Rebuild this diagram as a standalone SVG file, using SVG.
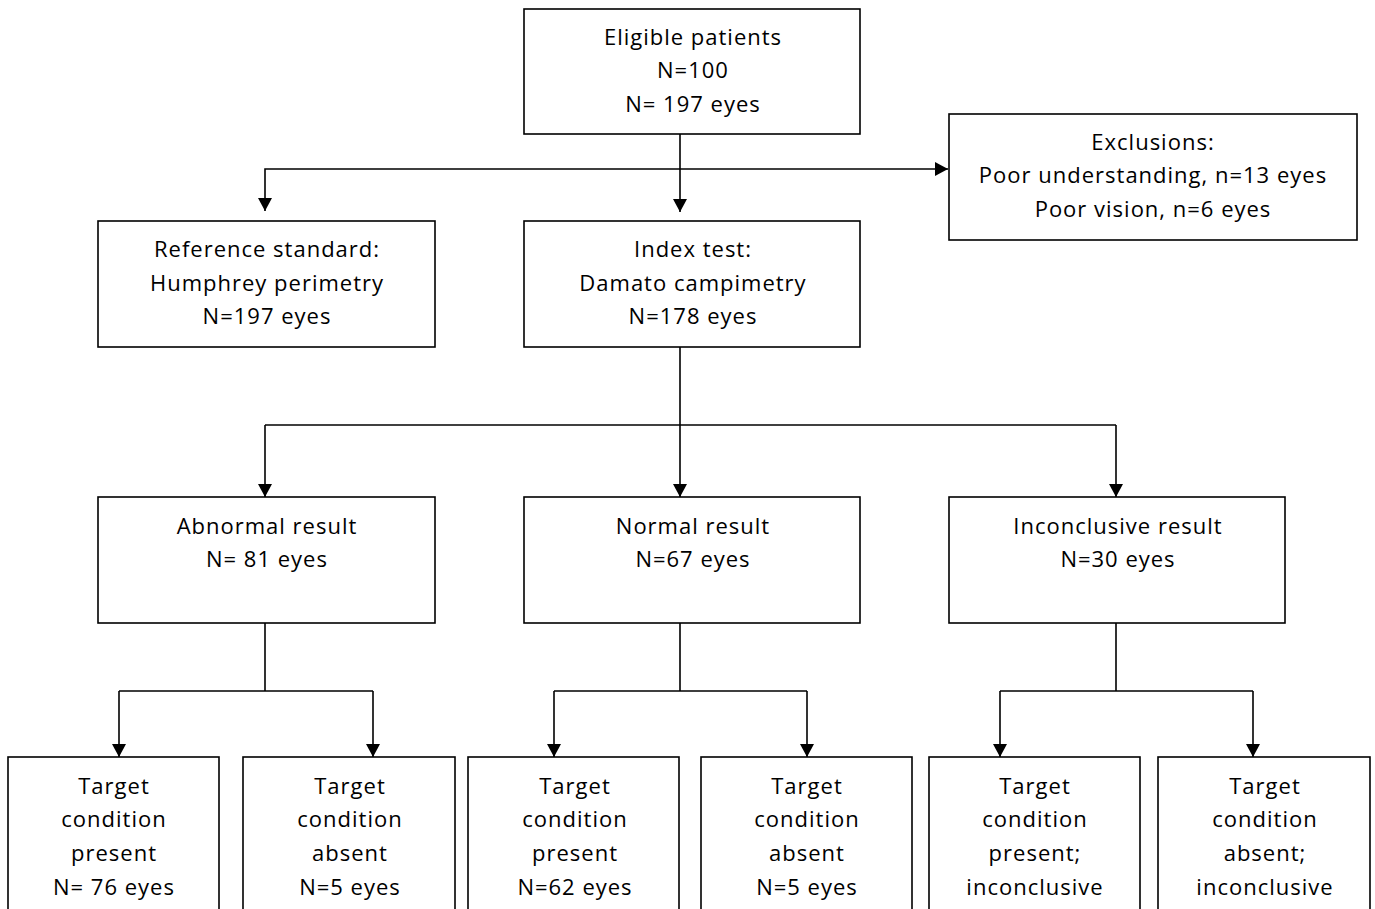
<svg xmlns="http://www.w3.org/2000/svg" width="1375" height="909" viewBox="0 0 1375 909">
<style>
.box{fill:#fff;stroke:#000;stroke-width:1.6}
.ln{fill:none;stroke:#000;stroke-width:1.6}
text{font-family:"Open Sans","Liberation Sans",sans-serif;font-size:22px;letter-spacing:1px;fill:#000;text-anchor:middle}
</style>
<defs>
<marker id="ah" markerWidth="14" markerHeight="14" refX="13" refY="7" orient="auto" markerUnits="userSpaceOnUse">
<path d="M0,0 L13,7 L0,14 Z" fill="#000"/>
</marker>
</defs>
<rect width="1375" height="909" fill="#fff"/>
<g id="connectors">
<path class="ln" d="M680,134 V212" marker-end="url(#ah)"/>
<path class="ln" d="M680,169 H948" marker-end="url(#ah)"/>
<path class="ln" d="M680,169 H265 V211" marker-end="url(#ah)"/>
<path class="ln" d="M680,347 V425"/>
<path class="ln" d="M265,425 H1116"/>
<path class="ln" d="M265,425 V497" marker-end="url(#ah)"/>
<path class="ln" d="M680,425 V497" marker-end="url(#ah)"/>
<path class="ln" d="M1116,425 V497" marker-end="url(#ah)"/>
<path class="ln" d="M265,623 V691 M119,691 H373"/>
<path class="ln" d="M119,691 V757" marker-end="url(#ah)"/>
<path class="ln" d="M373,691 V757" marker-end="url(#ah)"/>
<path class="ln" d="M680,623 V691 M554,691 H807"/>
<path class="ln" d="M554,691 V757" marker-end="url(#ah)"/>
<path class="ln" d="M807,691 V757" marker-end="url(#ah)"/>
<path class="ln" d="M1116,623 V691 M1000,691 H1253"/>
<path class="ln" d="M1000,691 V757" marker-end="url(#ah)"/>
<path class="ln" d="M1253,691 V757" marker-end="url(#ah)"/>
</g>
<g id="eligible">
<rect class="box" x="524" y="9" width="336" height="125"/>
<text x="693" y="45">Eligible patients</text>
<text x="693" y="78">N=100</text>
<text x="693" y="112">N= 197 eyes</text>
</g>
<g id="exclusions">
<rect class="box" x="949" y="114" width="408" height="126"/>
<text x="1153" y="150">Exclusions:</text>
<text x="1153" y="183">Poor understanding, n=13 eyes</text>
<text x="1153" y="217">Poor vision, n=6 eyes</text>
</g>
<g id="reference">
<rect class="box" x="98" y="221" width="337" height="126"/>
<text x="267" y="257">Reference standard:</text>
<text x="267" y="291">Humphrey perimetry</text>
<text x="267" y="324">N=197 eyes</text>
</g>
<g id="index">
<rect class="box" x="524" y="221" width="336" height="126"/>
<text x="693" y="257">Index test:</text>
<text x="693" y="291">Damato campimetry</text>
<text x="693" y="324">N=178 eyes</text>
</g>
<g id="abnormal">
<rect class="box" x="98" y="497" width="337" height="126"/>
<text x="267" y="534">Abnormal result</text>
<text x="267" y="567">N= 81 eyes</text>
</g>
<g id="normal">
<rect class="box" x="524" y="497" width="336" height="126"/>
<text x="693" y="534">Normal result</text>
<text x="693" y="567">N=67 eyes</text>
</g>
<g id="inconclusive">
<rect class="box" x="949" y="497" width="336" height="126"/>
<text x="1118" y="534">Inconclusive result</text>
<text x="1118" y="567">N=30 eyes</text>
</g>
<g id="abn-present">
<rect class="box" x="8" y="757" width="211" height="170"/>
<text x="114" y="794">Target</text>
<text x="114" y="827">condition</text>
<text x="114" y="861">present</text>
<text x="114" y="895">N= 76 eyes</text>
</g>
<g id="abn-absent">
<rect class="box" x="243" y="757" width="212" height="170"/>
<text x="350" y="794">Target</text>
<text x="350" y="827">condition</text>
<text x="350" y="861">absent</text>
<text x="350" y="895">N=5 eyes</text>
</g>
<g id="norm-present">
<rect class="box" x="468" y="757" width="211" height="170"/>
<text x="575" y="794">Target</text>
<text x="575" y="827">condition</text>
<text x="575" y="861">present</text>
<text x="575" y="895">N=62 eyes</text>
</g>
<g id="norm-absent">
<rect class="box" x="701" y="757" width="211" height="170"/>
<text x="807" y="794">Target</text>
<text x="807" y="827">condition</text>
<text x="807" y="861">absent</text>
<text x="807" y="895">N=5 eyes</text>
</g>
<g id="inc-present">
<rect class="box" x="929" y="757" width="211" height="170"/>
<text x="1035" y="794">Target</text>
<text x="1035" y="827">condition</text>
<text x="1035" y="861">present;</text>
<text x="1035" y="895">inconclusive</text>
</g>
<g id="inc-absent">
<rect class="box" x="1158" y="757" width="212" height="170"/>
<text x="1265" y="794">Target</text>
<text x="1265" y="827">condition</text>
<text x="1265" y="861">absent;</text>
<text x="1265" y="895">inconclusive</text>
</g>
</svg>
